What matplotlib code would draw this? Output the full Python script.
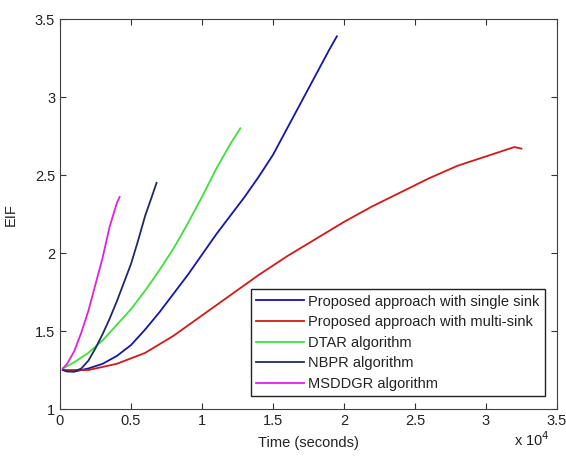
import numpy as np
import matplotlib.pyplot as plt

plt.rcParams['font.family'] = ['Liberation Sans', 'DejaVu Sans']

# time in units of 1e4 seconds
t_single = [0.02, 0.1, 0.2, 0.3, 0.4, 0.5, 0.6, 0.7, 0.8, 0.9, 1.0, 1.1, 1.2,
            1.3, 1.4, 1.5, 1.6, 1.7, 1.8, 1.9, 1.95]
eif_single = [1.25, 1.24, 1.26, 1.29, 1.34, 1.41, 1.51, 1.62, 1.74, 1.86, 1.99,
              2.12, 2.24, 2.36, 2.49, 2.63, 2.80, 2.97, 3.14, 3.31, 3.39]

t_multi = [0.02, 0.2, 0.4, 0.6, 0.8, 1.0, 1.2, 1.4, 1.6, 1.8, 2.0, 2.2, 2.4,
           2.6, 2.8, 3.0, 3.1, 3.2, 3.25]
eif_multi = [1.25, 1.25, 1.29, 1.36, 1.47, 1.60, 1.73, 1.86, 1.98, 2.09, 2.20,
             2.30, 2.39, 2.48, 2.56, 2.62, 2.65, 2.68, 2.67]

t_dtar = [0.02, 0.1, 0.2, 0.3, 0.4, 0.5, 0.6, 0.7, 0.8, 0.9, 1.0, 1.1, 1.2, 1.27]
eif_dtar = [1.26, 1.30, 1.36, 1.44, 1.54, 1.64, 1.76, 1.89, 2.03, 2.19, 2.36,
            2.54, 2.70, 2.80]

t_nbpr = [0.02, 0.05, 0.1, 0.15, 0.2, 0.25, 0.3, 0.35, 0.4, 0.45, 0.5, 0.55,
          0.6, 0.65, 0.68]
eif_nbpr = [1.25, 1.24, 1.24, 1.26, 1.31, 1.39, 1.48, 1.58, 1.69, 1.81, 1.93,
            2.08, 2.24, 2.37, 2.45]

t_msddgr = [0.02, 0.05, 0.1, 0.15, 0.2, 0.25, 0.3, 0.35, 0.4, 0.42]
eif_msddgr = [1.26, 1.29, 1.37, 1.49, 1.63, 1.80, 1.97, 2.17, 2.32, 2.36]

labels = ['Proposed approach with single sink', 'Proposed approach with multi-sink',
          'DTAR algorithm', 'NBPR algorithm', 'MSDDGR algorithm']
colors = ['#1515a8', '#d41818', '#3ee03e', '#1c2a66', '#e020e0']

fig = plt.figure(figsize=(5.66, 4.57), dpi=100)
ax = fig.add_axes([0.106, 0.105, 0.878, 0.853])

series = [(t_single, eif_single), (t_multi, eif_multi), (t_dtar, eif_dtar),
          (t_nbpr, eif_nbpr), (t_msddgr, eif_msddgr)]
for (t, e), lab, c in zip(series, labels, colors):
    ax.plot(np.array(t) * 1e4, e, color=c, lw=1.3, label=lab)

ax.set_xlim(0, 3.5e4)
ax.set_ylim(1, 3.5)
ax.set_xticks(np.arange(0, 3.51e4, 0.5e4))
ax.set_xticklabels(['0', '0.5', '1', '1.5', '2', '2.5', '3', '3.5'])
ax.set_yticks([1, 1.5, 2, 2.5, 3, 3.5])
ax.set_yticklabels(['1', '1.5', '2', '2.5', '3', '3.5'])
ax.tick_params(direction='in', top=True, right=True, length=4, labelsize=10.5,
               colors='#333333', labelcolor='#222222')
for s in ax.spines.values():
    s.set_color('#404040')

ax.set_xlabel('Time (seconds)', fontsize=10.5, color='#222222', labelpad=6)
ax.set_ylabel('EIF', fontsize=10.5, color='#222222', labelpad=12)
ax.text(0.985, -0.095, r'x 10$^4$', transform=ax.transAxes, ha='right',
        va='baseline', fontsize=10.5, color='#222222')

leg = ax.legend(loc='lower right', bbox_to_anchor=(0.99, 0.015), fontsize=10.5,
                handlelength=3.3, handletextpad=0.3, borderpad=0.35,
                labelspacing=0.45, fancybox=False, framealpha=1,
                edgecolor='#222222')
leg.get_frame().set_linewidth(1.0)
for txt in leg.get_texts():
    txt.set_color('#222222')

fig.savefig('out.png', dpi=100)
